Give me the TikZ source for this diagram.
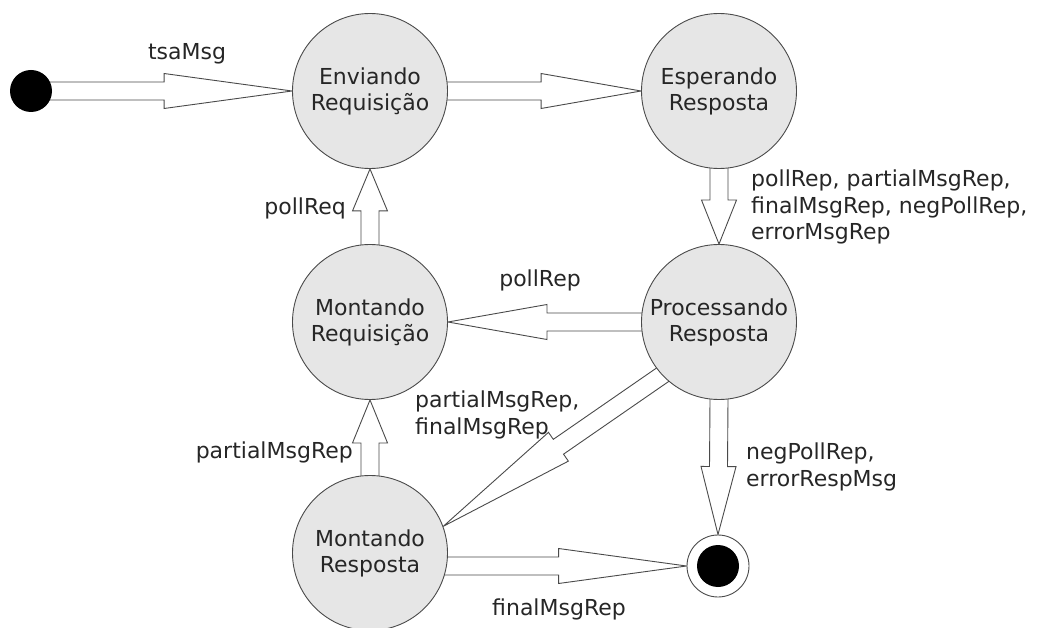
\documentclass[tikz,border=0pt]{standalone}
\usepackage{fontspec}
\setmainfont{DejaVu Sans}
\usetikzlibrary{calc,backgrounds}
\definecolor{linec}{HTML}{4A4A4A}
\definecolor{statefill}{HTML}{E6E6E6}
\definecolor{txtc}{HTML}{262626}
\tikzset{
  statenode/.style={circle, draw=linec, fill=statefill, line width=0.9pt,
    minimum size=155pt, inner sep=0pt, align=center, text=txtc,
    font=\fontsize{22}{26}\selectfont},
  lbl/.style={inner sep=0pt, text=txtc, font=\fontsize{22}{26.5}\selectfont},
  arrowbody/.style={draw=linec, fill=white, line width=0.9pt, line join=miter},
}
% #1 source border point, #2 tip point, #3 head length
\newcommand\blockarrow[3]{%
  \draw[arrowbody]
    ($(#1)!-15pt!(#2)!9pt!90:(#2)$) --
    ($(#2)!#3!(#1)!9pt!90:(#2)$) --
    ($(#2)!#3!(#1)!17.5pt!90:(#2)$) --
    (#2) --
    ($(#2)!#3!(#1)!17.5pt!-90:(#2)$) --
    ($(#2)!#3!(#1)!9pt!-90:(#2)$) --
    ($(#1)!-15pt!(#2)!9pt!-90:(#2)$);
}
\begin{document}
\begin{tikzpicture}[x=1pt,y=-1pt]
\useasboundingbox (0,0) rectangle (1047,628);
% states
\node[circle, fill=black, minimum size=42pt, inner sep=0pt] (init) at (31,91) {};
\node[statenode] (env) at (370,91) {Enviando\\Requisição};
\node[statenode] (esp) at (719,91) {Esperando\\Resposta};
\node[statenode] (mreq) at (370,322) {Montando\\Requisição};
\node[statenode] (proc) at (719,322) {Processando\\Resposta};
\node[statenode] (mresp) at (370,553) {Montando\\Resposta};
\node[circle, draw=linec, fill=white, line width=0.9pt, minimum size=62pt, inner sep=0pt] (fin) at (718,566) {};
\node[circle, fill=black, minimum size=42pt, inner sep=0pt] (fincore) at (fin.center) {};
\coordinate (mrout) at (fin.west -| mresp.east);
% transitions
\begin{scope}[on background layer]
\blockarrow{init.east}{env.west}{128pt}
\blockarrow{env.east}{esp.west}{100pt}
\blockarrow{esp.south}{proc.north}{44pt}
\blockarrow{mreq.north}{env.south}{42pt}
\blockarrow{proc.west}{mreq.east}{99pt}
\blockarrow{proc.223}{mresp.20}{140pt}
\blockarrow{mresp.north}{mreq.south}{43pt}
\blockarrow{mrout}{fin.west}{128pt}
\blockarrow{proc.south}{fin.north}{68pt}
\end{scope}
% labels
\node[lbl, anchor=base] (ltsa) at (187,60) {tsaMsg};
\node[lbl, anchor=base east] (lpreq) at (346,215) {pollReq};
\node[lbl, anchor=north west, align=left] (lproc) at (751,170) {pollRep, partialMsgRep,\\finalMsgRep, negPollRep,\\errorMsgRep};
\node[lbl, anchor=base] (lprep) at (540,287) {pollRep};
\node[lbl, anchor=north west, align=left] (lpart2) at (415,391) {partialMsgRep,\\finalMsgRep};
\node[lbl, anchor=base east] (lpart) at (353,458) {partialMsgRep};
\node[lbl, anchor=north west, align=left] (lneg) at (746,443) {negPollRep,\\errorRespMsg};
\node[lbl, anchor=base] (lfinal) at (559,615) {finalMsgRep};
\end{tikzpicture}
\end{document}
